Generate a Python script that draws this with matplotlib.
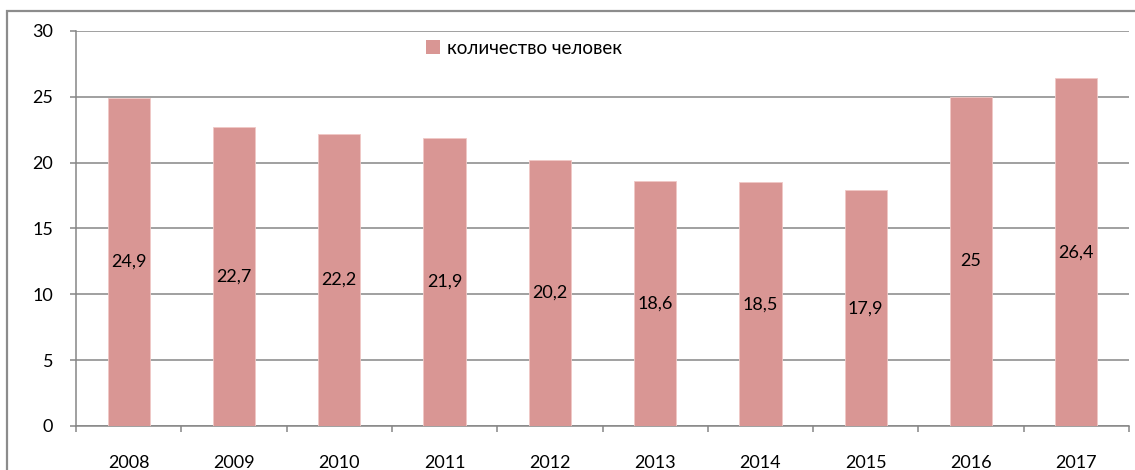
import matplotlib
matplotlib.use("Agg")
import matplotlib.pyplot as plt
from matplotlib.patches import Patch, Rectangle
import numpy as np

years = ["2008", "2009", "2010", "2011", "2012", "2013", "2014", "2015", "2016", "2017"]
values = [24.9, 22.7, 22.2, 21.9, 20.2, 18.6, 18.5, 17.9, 25, 26.4]
series_name = "количество человек"
yticks = [0, 5, 10, 15, 20, 25, 30]

plt.rcParams['font.family'] = ['Lato', 'Open Sans', 'DejaVu Sans']

W, H = 1135, 470
fig = plt.figure(figsize=(W / 100, H / 100), dpi=100)
fig.patch.set_facecolor('white')

# outer frame
fig.patches.append(Rectangle((7 / W, -0.1), 1.2, 1 - 11 / H + 0.1, transform=fig.transFigure,
                             fill=False, edgecolor='#8c8c8c', linewidth=1.6))

ax = fig.add_axes([76 / W, (H - 426) / H, (1129 - 76) / W, (426 - 31) / H])
bar_color = '#D99694'
x = np.arange(len(years))
ax.bar(x, values, width=0.4, color=bar_color, edgecolor='#f0c8c6', linewidth=0.6, zorder=3)

for xi, v in zip(x, values):
    s = (f"{v:g}").replace('.', ',')
    ax.text(xi, v / 2, s, ha='center', va='center', fontsize=13, color='black', zorder=4)

ax.set_xlim(-0.5, len(years) - 0.5)
ax.set_ylim(0, 30)
ax.set_yticks(yticks)
ax.set_yticklabels([str(t) for t in yticks])
ax.yaxis.grid(True, color='#868686', linewidth=1.1, zorder=0)
ax.set_axisbelow(True)

ax.set_xticks(x)
ax.set_xticklabels(years)
ax.set_xticks(np.arange(-0.5, len(years)), minor=True)
ax.tick_params(axis='x', which='major', length=0, pad=21, labelsize=13)
ax.tick_params(axis='x', which='minor', length=4.5, width=1.1, color='#868686')
ax.tick_params(axis='y', which='major', length=4.5, width=1.1, color='#868686', pad=12, labelsize=13)

for side in ['top', 'right']:
    ax.spines[side].set_visible(False)
for side in ['left', 'bottom']:
    ax.spines[side].set_color('#868686')
    ax.spines[side].set_linewidth(1.1)

handle = Patch(facecolor=bar_color, edgecolor='none')
fig.legend([handle], [series_name], loc='center left', bbox_to_anchor=(409 / W, 1 - 48 / H),
           frameon=False, fontsize=13.5, handlelength=0.75, handleheight=0.75, handletextpad=0.4)

fig.savefig('out.png', dpi=100, facecolor='white')
